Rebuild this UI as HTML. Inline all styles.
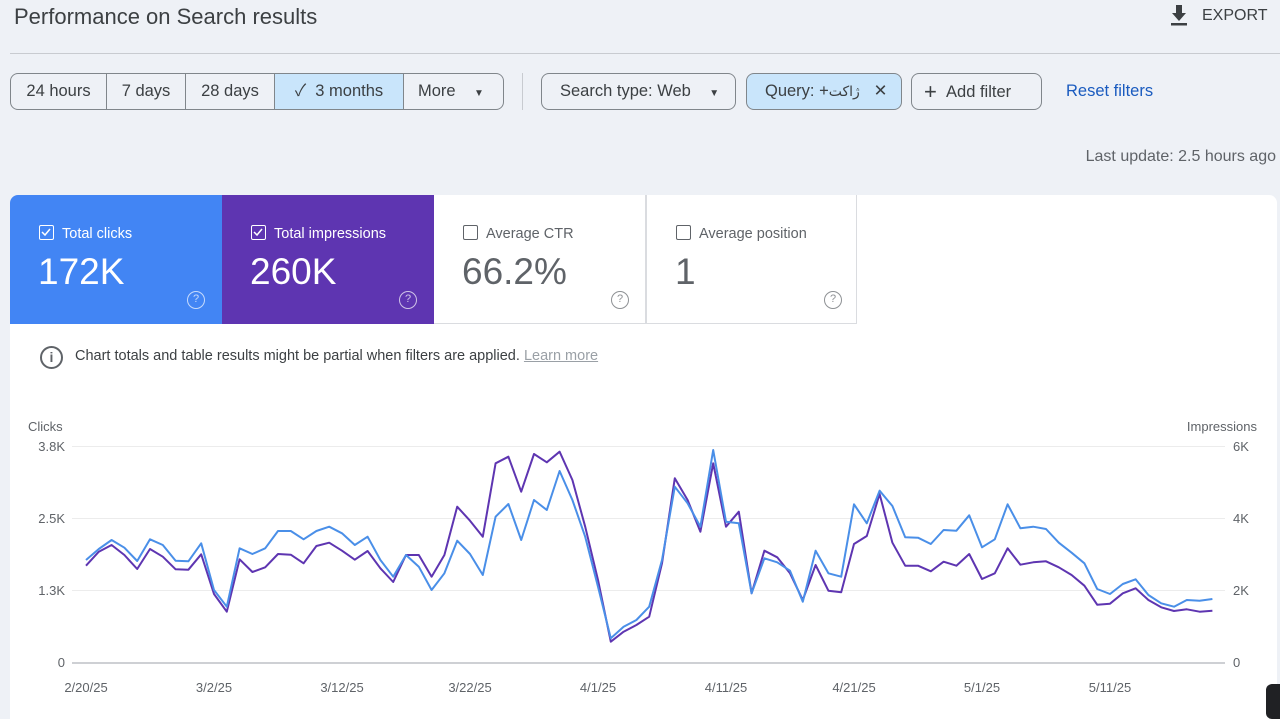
<!DOCTYPE html>
<html><head><meta charset="utf-8"><style>
*{box-sizing:border-box;margin:0;padding:0}
body{width:1280px;height:719px;overflow:hidden;background:#eef1f6;font-family:"Liberation Sans","Noto Sans CJK SC",sans-serif;color:#3c4043;position:relative}
.a{position:absolute;white-space:nowrap}
.btn{position:absolute;top:73px;height:37px;border:1px solid #80868b;border-radius:8px;font-size:16.5px;line-height:35px;color:#3c4043}
.seg{position:absolute;top:0;height:35px;text-align:center;border-right:1px solid #80868b}
.card{position:absolute;top:195px;height:129px;width:212px}
.card .l{position:absolute;left:29px;top:30px;font-size:14.5px}
.card .v{position:absolute;left:28px;top:56px;font-size:37px}
.cb{display:inline-block;width:15px;height:15px;border:1.5px solid currentColor;border-radius:2px;vertical-align:-2px;margin-right:8px;position:relative;overflow:hidden}
.cb svg{position:absolute;left:0;top:0}
.q{position:absolute;left:177px;top:96px;width:18px;height:18px;border:1.5px solid currentColor;border-radius:50%;font-size:11px;text-align:center;line-height:15px;opacity:.7}
.t{font-size:13px;fill:#5f6368;font-family:"Liberation Sans",sans-serif}
</style></head><body>
<div class="a" style="left:14px;top:4px;font-size:22px;color:#3c4043">Performance on Search results</div>
<svg class="a" style="left:1169px;top:5px" width="20" height="22"><path d="M7 0h6v8h4l-7 8-7-8h4z" fill="#3c4043"/><rect x="2" y="18" width="16" height="2.5" fill="#3c4043"/></svg>
<div class="a" style="left:1202px;top:7px;font-size:16px;color:#3c4043">EXPORT</div>
<div class="a" style="left:10px;top:53px;width:1270px;height:1px;background:#c8cbd0"></div>

<div class="btn" style="left:10px;width:494px;overflow:hidden">
<div class="seg" style="left:0;width:96px">24 hours</div>
<div class="seg" style="left:96px;width:79px">7 days</div>
<div class="seg" style="left:175px;width:89px">28 days</div>
<div class="seg" style="left:264px;width:129px;background:#c9e5fb">✓&nbsp;&nbsp;3 months</div>
<div class="seg" style="left:393px;width:100px;border:none;text-align:left;padding-left:14px">More&nbsp;&nbsp;&nbsp;&nbsp;<span style="font-size:10px">▼</span></div>
</div>
<div class="a" style="left:522px;top:73px;width:1px;height:37px;background:#c8cbd0"></div>
<div class="btn" style="left:541px;width:195px;padding-left:18px">Search type: Web&nbsp;&nbsp;&nbsp;&nbsp;<span style="font-size:10px">▼</span></div>
<div class="btn" style="left:746px;width:156px;padding-left:18px;background:#c9e5fb">Query: +<span style="font-family:'DejaVu Sans',sans-serif;font-size:14px">ژاکت</span>&nbsp;&nbsp;&nbsp;✕</div>
<div class="btn" style="left:911px;width:131px;padding-left:12px"><span style="font-size:22px;vertical-align:-2px">+</span>&nbsp;&nbsp;Add filter</div>
<div class="a" style="left:1066px;top:82px;font-size:16.5px;color:#1a5bbf">Reset filters</div>
<div class="a" style="right:4px;top:148px;font-size:16px;color:#5f6368">Last update: 2.5 hours ago</div>

<div class="a" style="left:10px;top:195px;width:1267px;height:524px;background:#fff;border-radius:8px 8px 0 0"></div>
<div class="card" style="left:10px;background:#4285f4;color:#fff;border-radius:8px 0 0 0"><div class="l"><span class="cb"><svg width="12" height="12"><path d="M2 6l3 3 5-6" stroke="#fff" stroke-width="1.5" fill="none"/></svg></span>Total clicks</div><div class="v">172K</div><div class="q">?</div></div>
<div class="card" style="left:222px;background:#5e35b1;color:#fff"><div class="l"><span class="cb"><svg width="12" height="12"><path d="M2 6l3 3 5-6" stroke="#fff" stroke-width="1.5" fill="none"/></svg></span>Total impressions</div><div class="v">260K</div><div class="q">?</div></div>
<div class="card" style="left:434px;color:#5f6368;border-bottom:1px solid #dadce0;border-right:1px solid #dadce0"><div class="l"><span class="cb"></span>Average CTR</div><div class="v">66.2%</div><div class="q">?</div></div>
<div class="card" style="left:646px;color:#5f6368;border:1px solid #dadce0;border-top:none;width:211px"><div class="l"><span class="cb"></span>Average position</div><div class="v">1</div><div class="q">?</div></div>

<div class="a" style="left:40px;top:346px;width:23px;height:23px;border:2px solid #5f6368;border-radius:50%;text-align:center;font-size:14px;line-height:19px;color:#5f6368;font-weight:bold">i</div>
<div class="a" style="left:75px;top:348px;font-size:14.5px;color:#3c4043">Chart totals and table results might be partial when filters are applied. <span style="color:#9aa0a6;text-decoration:underline">Learn more</span></div>

<svg class="a" style="left:0;top:0" width="1280" height="719">
<g stroke="#ececec" stroke-width="1"><line x1="72" y1="446.5" x2="1225" y2="446.5"/><line x1="72" y1="518.5" x2="1225" y2="518.5"/><line x1="72" y1="590.5" x2="1225" y2="590.5"/></g>
<line x1="72" y1="663" x2="1225" y2="663" stroke="#bdc1c6" stroke-width="1.5"/>
<text class="t" x="28" y="431">Clicks</text>
<text class="t" x="65" y="451" text-anchor="end">3.8K</text>
<text class="t" x="65" y="523" text-anchor="end">2.5K</text>
<text class="t" x="65" y="595" text-anchor="end">1.3K</text>
<text class="t" x="65" y="667" text-anchor="end">0</text>
<text class="t" x="1257" y="431" text-anchor="end">Impressions</text>
<text class="t" x="1233" y="451">6K</text>
<text class="t" x="1233" y="523">4K</text>
<text class="t" x="1233" y="595">2K</text>
<text class="t" x="1233" y="667">0</text>
<text class="t" x="86" y="692" text-anchor="middle">2/20/25</text>
<text class="t" x="214" y="692" text-anchor="middle">3/2/25</text>
<text class="t" x="342" y="692" text-anchor="middle">3/12/25</text>
<text class="t" x="470" y="692" text-anchor="middle">3/22/25</text>
<text class="t" x="598" y="692" text-anchor="middle">4/1/25</text>
<text class="t" x="726" y="692" text-anchor="middle">4/11/25</text>
<text class="t" x="854" y="692" text-anchor="middle">4/21/25</text>
<text class="t" x="982" y="692" text-anchor="middle">5/1/25</text>
<text class="t" x="1110" y="692" text-anchor="middle">5/11/25</text>
<polyline id="pp" fill="none" stroke="#5e35b1" stroke-width="2" stroke-linejoin="round"/>
<polyline id="bp" fill="none" stroke="#4a8fe8" stroke-width="2" stroke-linejoin="round"/>
</svg>
<div class="a" style="left:1266px;top:684px;width:20px;height:35px;background:#202124;border-radius:6px"></div>
<script>
var b=[480,447,420,443,483,418,435,482,484,430,570,620,445,462,445,393,393,418,393,380,400,435,410,480,530,465,500,570,520,422,462,525,350,312,420,300,330,213,300,410,560,715,680,660,620,480,260,310,380,150,365,370,580,475,487,512,605,452,520,530,313,370,272,318,412,413,432,390,392,346,442,418,313,385,380,387,428,458,490,567,582,552,538,585,610,620,600,602,597];
var p=[497,455,435,465,507,447,470,508,509,463,582,635,478,516,502,462,464,490,438,428,452,479,453,505,546,465,465,530,465,320,362,410,190,170,275,162,187,155,240,380,540,725,695,675,650,490,235,300,395,190,380,335,580,452,472,520,600,495,572,577,432,408,282,428,497,497,514,485,497,462,537,520,445,494,487,484,502,525,557,614,611,580,565,600,622,633,628,635,632];
function pts(a){return a.map(function(v,i){return (86+12.8*i).toFixed(1)+","+(400+v/3).toFixed(1)}).join(" ")}
document.getElementById("bp").setAttribute("points",pts(b));
document.getElementById("pp").setAttribute("points",pts(p));
</script>
</body></html>
